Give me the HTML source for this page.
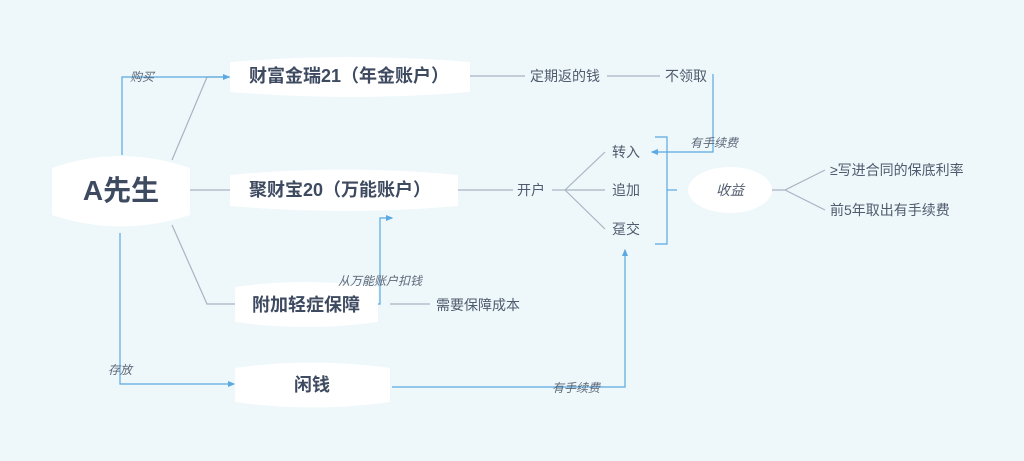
<!DOCTYPE html>
<html><head><meta charset="utf-8"><style>
html,body{margin:0;padding:0;background:#eef7fa;}
svg{display:block;font-family:"Liberation Sans","Noto Sans CJK SC",sans-serif;}
</style></head><body>
<svg width="1024" height="461" viewBox="0 0 1024 461" xmlns="http://www.w3.org/2000/svg">
<defs>
<marker id="ar" markerWidth="6" markerHeight="6" refX="5" refY="3" orient="auto"><path d="M0,0.5 L6,3 L0,5.5z" fill="#5aa9e0"/></marker>
</defs>
<rect width="1024" height="461" fill="#eef7fa"/>
<g stroke="#a9b4c2" stroke-width="1.2" fill="none">
<polyline points="172,160 207,77 230,77"/>
<line x1="190" y1="190" x2="230" y2="190"/>
<polyline points="172,225 207,304 235,304"/>
<line x1="470" y1="76" x2="525" y2="76"/>
<line x1="607" y1="76" x2="660" y2="76"/>
<line x1="458" y1="190" x2="513" y2="190"/>
<line x1="552" y1="190" x2="565" y2="190"/>
<line x1="565" y1="190" x2="605" y2="152"/>
<line x1="565" y1="190" x2="605" y2="190"/>
<line x1="565" y1="190" x2="605" y2="229"/>
<polyline points="772,190 785,190 825,170"/>
<polyline points="785,190 825,210"/>
<line x1="390" y1="304" x2="430" y2="304"/>
</g>
<g stroke="#5aa9e0" stroke-width="1.2" fill="none">
<polyline points="122,155 122,77 229,77" marker-end="url(#ar)"/>
<polyline points="120,233 120,384 234,384" marker-end="url(#ar)"/>
<polyline points="713,74 713,152 652,152" marker-end="url(#ar)"/>
<polyline points="378,304 380,304 380,218 392,218" marker-end="url(#ar)"/>
<polyline points="392,387 625,387 625,250" marker-end="url(#ar)"/>
<polyline points="655,137 667,137 667,244 655,244"/>
<line x1="667" y1="190" x2="677" y2="190"/>
</g>
<g fill="#fff">
<path d="M52,168 Q121,144 190,168 L190,215 Q121,238 52,215 Z"/>
<path d="M230,62 Q350,52 470,62 L470,92 Q350,102 230,92 Z"/>
<path d="M230,175 Q344,164 458,175 L458,206 Q344,216 230,206 Z"/>
<path d="M235,287 Q306,277 378,287 L378,322 Q306,332 235,322 Z"/>
<path d="M235,368 Q312,357 390,368 L390,402 Q312,413 235,402 Z"/>
<ellipse cx="730" cy="190" rx="42" ry="23"/>
</g>
<g fill="#3d4a60" font-weight="bold">
<text x="121" y="200" font-size="28" text-anchor="middle">A先生</text>
<text x="249" y="82" font-size="18">财富金瑞21（年金账户）</text>
<text x="249" y="196" font-size="18">聚财宝20（万能账户）</text>
<text x="306" y="311" font-size="18" text-anchor="middle">附加轻症保障</text>
<text x="312" y="391" font-size="18" text-anchor="middle">闲钱</text>
</g>
<g fill="#4f5b6e" font-size="14">
<text x="530" y="81">定期返的钱</text>
<text x="665" y="81">不领取</text>
<text x="517" y="195">开户</text>
<text x="612" y="157">转入</text>
<text x="612" y="195">追加</text>
<text x="612" y="234">趸交</text>
<text x="830" y="175">≥写进合同的保底利率</text>
<text x="830" y="215">前5年取出有手续费</text>
<text x="436" y="310">需要保障成本</text>
<text x="730" y="195" text-anchor="middle" font-style="italic">收益</text>
</g>
<g fill="#5d6878" font-size="12" font-style="italic">
<text x="130" y="81">购买</text>
<text x="108" y="374">存放</text>
<text x="690" y="147">有手续费</text>
<text x="338" y="285">从万能账户扣钱</text>
<text x="552" y="392">有手续费</text>
</g>
</svg>
</body></html>
